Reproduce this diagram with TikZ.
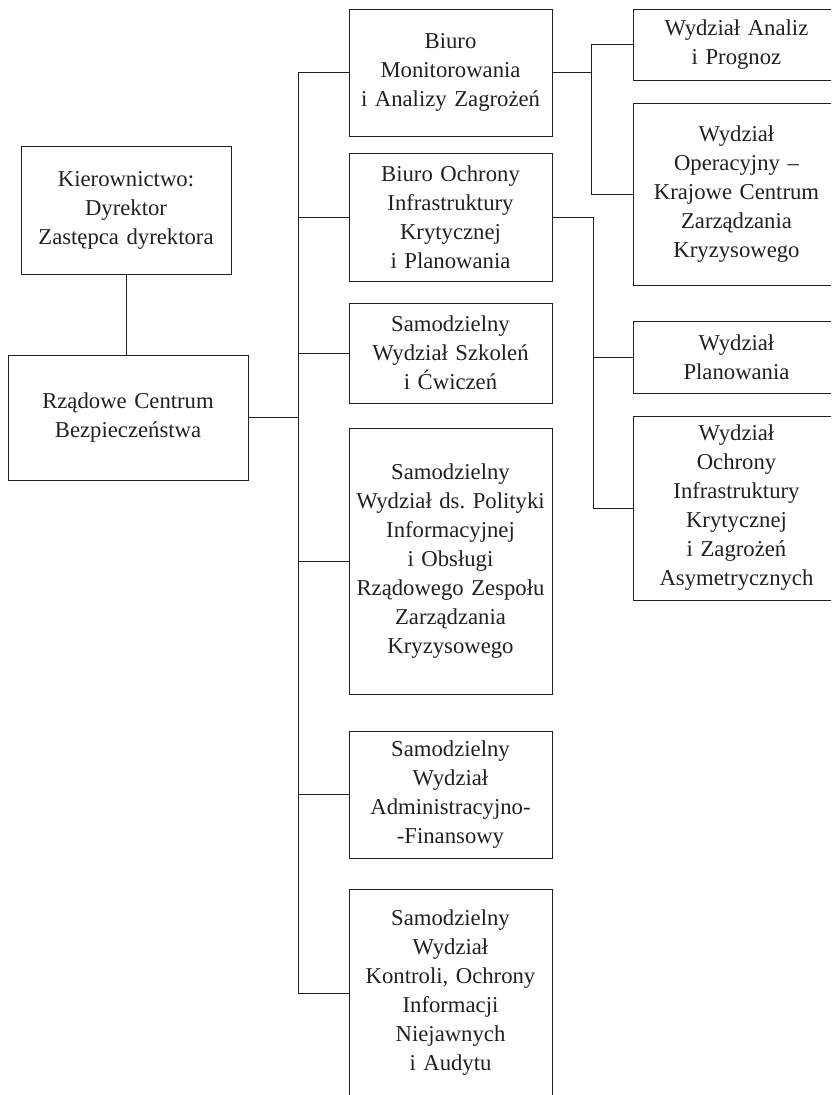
\documentclass[tikz,border=0pt]{standalone}
\usepackage{fontspec}
\setmainfont{Liberation Serif}
\definecolor{ink}{HTML}{231F20}
\tikzset{
  unit/.style={draw=ink,text=ink,line width=0.9pt,inner sep=0pt,align=center,
    font=\fontsize{22.7}{29}\selectfont},
  link/.style={draw=ink,line width=0.9pt}
}
\begin{document}
\begin{tikzpicture}[x=1pt,y=-1pt]
      \useasboundingbox (0,0) rectangle (831,1095);
      \clip (0,0) rectangle (831,1095);
      \begin{scope}[every node/.style={unit}]
        \node[minimum width=210pt,minimum height=128pt,text width=210pt] (kier) at (126,210) {Kierownictwo:\\Dyrektor\\Zastępca dyrektora};
        \node[minimum width=240pt,minimum height=125pt,text width=240pt] (rcb) at (128,417.5) {Rządowe Centrum\\Bezpieczeństwa};
        \node[minimum width=203pt,minimum height=127pt,text width=203pt] (bm) at (450.5,72.5) {Biuro\\Monitorowania\\i Analizy Zagrożeń};
        \node[minimum width=203pt,minimum height=128pt,text width=203pt] (boik) at (450.5,217) {Biuro Ochrony\\Infrastruktury\\Krytycznej\\i Planowania};
        \node[minimum width=203pt,minimum height=100pt,text width=203pt] (swsc) at (450.5,353) {Samodzielny\\Wydział Szkoleń\\i Ćwiczeń};
        \node[minimum width=203pt,minimum height=266pt,text width=203pt] (swdp) at (450.5,561) {Samodzielny\\Wydział ds.~Polityki\\Informacyjnej\\i Obsługi\\Rządowego Zespołu\\Zarządzania\\Kryzysowego};
        \node[minimum width=203pt,minimum height=127pt,text width=203pt] (swaf) at (450.5,794.5) {Samodzielny\\Wydział\\Administracyjno-\\-Finansowy};
        \node[minimum width=203pt,minimum height=208pt,text width=203pt] (swk) at (450.5,993) {Samodzielny\\Wydział\\Kontroli, Ochrony\\Informacji\\Niejawnych\\i Audytu};
        \node[minimum width=207pt,minimum height=71pt,text width=207pt] (wap) at (736.5,44.5) {Wydział Analiz\\i Prognoz};
        \node[minimum width=207pt,minimum height=182pt,text width=207pt] (wo) at (736.5,194) {Wydział\\Operacyjny --\\Krajowe Centrum\\Zarządzania\\Kryzysowego};
        \node[minimum width=207pt,minimum height=72pt,text width=207pt] (wp) at (736.5,357) {Wydział\\Planowania};
        \node[minimum width=207pt,minimum height=184pt,text width=207pt] (woik) at (736.5,508) {Wydział\\Ochrony\\Infrastruktury\\Krytycznej\\i Zagrożeń\\Asymetrycznych};
      \end{scope}
      \coordinate (trunk) at (298,0);
      \coordinate (busA) at (591,0);
      \coordinate (busB) at (593,0);
      \begin{scope}[every path/.style={link}]
        \draw (kier.south) -- (kier.south |- rcb.north);
        \draw (rcb.east) -- (rcb.east -| trunk);
        \draw (bm.west) -- (bm.west -| trunk) -- (swk.west -| trunk) -- (swk.west);
        \foreach \unitname in {boik,swsc,swdp,swaf}
          \draw (\unitname.west) -- (\unitname.west -| trunk);
        \draw (bm.east) -- (bm.east -| busA);
        \draw (wap.west) -- (wap.west -| busA) -- (wo.west -| busA) -- (wo.west);
        \draw (boik.east) -- (boik.east -| busB) -- (woik.west -| busB) -- (woik.west);
        \draw (wp.west) -- (wp.west -| busB);
      \end{scope}
    \end{tikzpicture}
\end{document}
